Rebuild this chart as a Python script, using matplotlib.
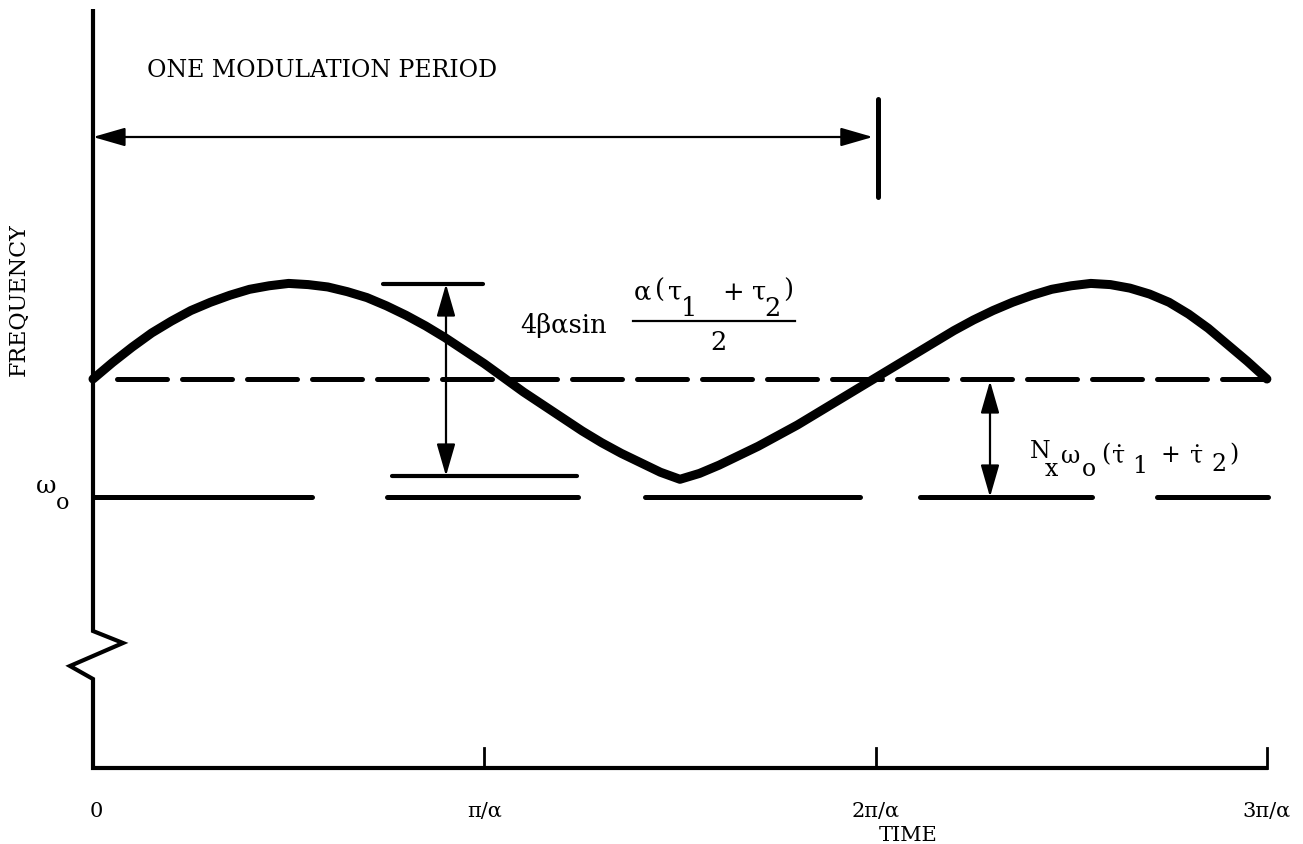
import matplotlib
matplotlib.use("Agg")
import matplotlib.pyplot as plt

# ===== データ =====
# 時間 (π/α 単位) と周波数 (ω_o = 0, 平均 = 1 の相対単位)
curve_t = [0.00, 0.05, 0.10, 0.15, 0.20, 0.25, 0.30, 0.35, 0.40, 0.45, 0.50,
           0.55, 0.60, 0.65, 0.70, 0.75, 0.80, 0.85, 0.90, 0.95, 1.00,
           1.05, 1.10, 1.15, 1.20, 1.25, 1.30, 1.35, 1.40, 1.45, 1.50,
           1.55, 1.60, 1.65, 1.70, 1.75, 1.80, 1.85, 1.90, 1.95, 2.00,
           2.05, 2.10, 2.15, 2.20, 2.25, 2.30, 2.35, 2.40, 2.45, 2.50,
           2.55, 2.60, 2.65, 2.70, 2.75, 2.80, 2.85, 2.90, 2.95, 3.00]
curve_f = [1.00, 1.14, 1.27, 1.39, 1.49, 1.58, 1.65, 1.71, 1.76, 1.79, 1.81,
           1.80, 1.78, 1.74, 1.69, 1.62, 1.54, 1.45, 1.35, 1.24, 1.13,
           1.01, 0.89, 0.78, 0.67, 0.56, 0.46, 0.37, 0.29, 0.21, 0.15,
           0.20, 0.27, 0.35, 0.43, 0.52, 0.61, 0.71, 0.81, 0.91, 1.01,
           1.11, 1.21, 1.31, 1.41, 1.50, 1.58, 1.65, 1.71, 1.76, 1.79,
           1.81, 1.80, 1.77, 1.72, 1.65, 1.55, 1.43, 1.29, 1.15, 1.00]

mean_level = 1.0
mean_span = [0.061, 3.0]

# ω_o の線 (途切れ途切れ)
omega_segments = [(0.0, 0.560), (0.751, 1.239), (1.411, 1.960), (2.113, 2.553), (2.719, 3.003)]

tick_pos = [0, 1, 2, 3]
tick_labels = ["0", "π/α", "2π/α", "3π/α"]

period_end = 2.0
peak_level = 1.805
trough_level = 0.178

# ===== 座標 =====
W, H = 1303, 845
PX_X0, PX_PER_T = 93, 391.3
PX_Y0, PX_PER_F = 498, 118.0


def fy(py):
    return (PX_Y0 - py) / PX_PER_F


def tx(px):
    return (px - PX_X0) / PX_PER_T


def put(px, py, s, size=17, **kw):
    kw.setdefault("ha", "center")
    kw.setdefault("va", "center")
    ax.text(tx(px), fy(py), s, fontsize=size, family=serif, **kw)


fig = plt.figure(figsize=(W / 100, H / 100), dpi=100)
ax = fig.add_axes([0, 0, 1, 1])
ax.set_xlim(tx(0), tx(W))
ax.set_ylim(fy(H), fy(0))
ax.axis("off")

serif = ["DejaVu Serif", "DejaVu Sans"]
k = "black"

# 軸 (途中に省略の折れ線)
y_top, y_bot = fy(10), fy(769)
ax.plot([0, 0, tx(123), tx(70), 0, 0, tx(1268)],
        [y_top, fy(632), fy(644), fy(667), fy(680), y_bot, y_bot],
        color=k, lw=3.0, solid_joinstyle="miter", solid_capstyle="butt")
for t in tick_pos[1:]:
    ax.plot([t, t], [y_bot, y_bot + 0.17], color=k, lw=2.0)
for t, lab in zip(tick_pos, tick_labels):
    px = PX_X0 + PX_PER_T * t + (3 if t == 0 else 0)
    put(px, 812, lab, size=15)
put(908, 836, "TIME", size=15)
put(19, 300, "FREQUENCY", size=16, rotation=90)
put(46, 487, "ω", size=18)
put(63, 503, "o", size=16)

# 周波数曲線
ax.plot(curve_t, curve_f, color=k, lw=6.5, solid_joinstyle="round", solid_capstyle="round")

# 平均周波数 (破線)
ax.plot(mean_span, [mean_level, mean_level], color=k, lw=3.6,
        linestyle=(0, (10, 3)), dash_capstyle="round")

# ω_o の線
for a, b in omega_segments:
    ax.plot([a, b], [0, 0], color=k, lw=3.6, solid_capstyle="round")

arrow = dict(arrowstyle="<|-|>,head_length=0.9,head_width=0.26", mutation_scale=22,
             color=k, lw=1.6, shrinkA=0, shrinkB=0)

# 1変調周期
ax.annotate("", xy=(0, fy(138)), xytext=(period_end - 0.007, fy(138)), arrowprops=arrow)
ax.plot([tx(878), tx(878)], [fy(100), fy(198)], color=k, lw=3.6, solid_capstyle="round")
put(147, 70, "ONE MODULATION PERIOD", size=17, ha="left")

# 振幅の寸法線
ax.plot([tx(383), tx(483)], [peak_level, peak_level], color=k, lw=3.0, solid_capstyle="round")
ax.plot([tx(392), tx(577)], [trough_level, trough_level], color=k, lw=3.0, solid_capstyle="round")
ax.annotate("", xy=(tx(446), peak_level), xytext=(tx(446), trough_level), arrowprops=arrow)

put(520, 325, "4βαsin", size=18.5, ha="left")
for px, py, s in [(642, 292, "α"), (660, 290, "("), (675, 292, "τ"), (689, 309, "1"),
                  (733, 292, "+"), (759, 292, "τ"), (772, 308, "2"), (788, 290, ")")]:
    put(px, py, s, size=18.5)
ax.plot([tx(633), tx(795)], [fy(322), fy(322)], color=k, lw=1.6)
put(718, 342, "2", size=18.5)

# オフセットの寸法線
ax.annotate("", xy=(tx(990), fy(382)), xytext=(tx(990), 0), arrowprops=arrow)
for px, py, s in [(1040, 452, "N"), (1051, 470, "x"), (1071, 457, "ω"), (1089, 470, "o"),
                  (1106, 455, "("), (1119, 457, "\u03c4\u0307"), (1140, 467, "1"), (1170, 456, "+"),
                  (1197, 457, "\u03c4\u0307"), (1219, 465, "2"), (1234, 455, ")")]:
    put(px, py, s)

fig.savefig("out.png", dpi=100, facecolor="white")
